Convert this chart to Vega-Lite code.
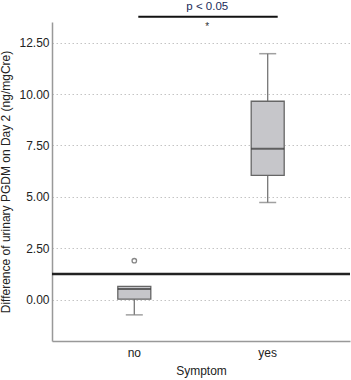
{
  "$schema": "https://vega.github.io/schema/vega-lite/v6.json",
  "autosize": {"type": "none"},
  "padding": {"left": 52, "top": 22, "right": 1, "bottom": 39},
  "width": 298,
  "height": 319,
  "background": "white",
  "config": {
    "view": {"stroke": null},
    "font": "Liberation Sans",
    "axis": {"labelFont": "Liberation Sans", "titleFont": "Liberation Sans", "labelColor": "#222", "titleColor": "#222", "titleFontWeight": "normal"}
  },
  "datasets": {
    "box": [
      {"Symptom": "no", "lower": -0.73, "q1": 0.03, "median": 0.53, "q3": 0.65, "upper": 0.65},
      {"Symptom": "yes", "lower": 4.73, "q1": 6.05, "median": 7.34, "q3": 9.65, "upper": 11.96}
    ],
    "outliers": [{"Symptom": "no", "value": 1.9}],
    "ref": [{"value": 1.26}],
    "sig": [{"from": "no", "to": "yes", "y": 13.76, "ytext": 14.06, "ystar": 13.42, "label": "p < 0.05", "star": "*"}]
  },
  "encoding": {
    "x": {
      "field": "Symptom", "type": "nominal", "sort": ["no", "yes"], "title": "Symptom",
      "scale": {"paddingInner": 0.5, "paddingOuter": 0.367},
      "axis": {"labelAngle": 0, "ticks": false, "domainColor": "#999", "domainWidth": 1.5, "labelFontSize": 12, "titleFontSize": 12, "labelPadding": 6, "titlePadding": 7, "grid": false}
    }
  },
  "layer": [
    {
      "data": {"name": "box"},
      "mark": {"type": "rule", "color": "#777", "strokeWidth": 1.3},
      "encoding": {
        "y": {
          "field": "lower", "type": "quantitative",
          "scale": {"domain": [-2, 13.5], "nice": false, "zero": false},
          "title": "Difference of urinary PGDM on Day 2 (ng/mgCre)",
          "axis": {"values": [0, 2.5, 5, 7.5, 10, 12.5], "format": ".2f", "ticks": false, "labelFontSize": 12, "titleFontSize": 12, "labelPadding": 3, "titlePadding": 6, "domainColor": "#999", "domainWidth": 1.5, "gridColor": "#c4c4c4", "gridDash": [1.5, 2.5], "gridWidth": 1}
        },
        "y2": {"field": "upper"}
      }
    },
    {
      "data": {"name": "box"},
      "mark": {"type": "tick", "color": "#777", "size": 17, "thickness": 1.5, "orient": "horizontal"},
      "encoding": {"y": {"field": "lower", "type": "quantitative"}}
    },
    {
      "data": {"name": "box"},
      "transform": [{"filter": "datum.upper > datum.q3"}],
      "mark": {"type": "tick", "color": "#777", "size": 17, "thickness": 1.5, "orient": "horizontal"},
      "encoding": {"y": {"field": "upper", "type": "quantitative"}}
    },
    {
      "data": {"name": "box"},
      "mark": {"type": "bar", "size": 33, "fill": "#c6c6ca", "stroke": "#666", "strokeWidth": 1.3},
      "encoding": {"y": {"field": "q1", "type": "quantitative"}, "y2": {"field": "q3"}}
    },
    {
      "data": {"name": "box"},
      "mark": {"type": "tick", "color": "#333", "size": 33, "thickness": 2, "orient": "horizontal"},
      "encoding": {"y": {"field": "median", "type": "quantitative"}}
    },
    {
      "data": {"name": "outliers"},
      "mark": {"type": "point", "shape": "circle", "filled": false, "stroke": "#555", "strokeWidth": 1.3, "size": 20},
      "encoding": {"y": {"field": "value", "type": "quantitative"}}
    },
    {
      "data": {"name": "ref"},
      "mark": {"type": "rule", "color": "#222", "strokeWidth": 2.5},
      "encoding": {"x": null, "y": {"field": "value", "type": "quantitative"}}
    },
    {
      "data": {"name": "sig"},
      "mark": {"type": "rule", "color": "#111", "strokeWidth": 2, "clip": false, "xOffset": 4, "x2Offset": 10},
      "encoding": {"x": {"field": "from", "type": "nominal", "title": "Symptom"}, "x2": {"field": "to"}, "y": {"field": "y", "type": "quantitative"}}
    },
    {
      "data": {"name": "sig"},
      "mark": {"type": "text", "fontSize": 11.5, "color": "#1a2a5a", "clip": false, "xOffset": 73, "baseline": "alphabetic"},
      "encoding": {"x": {"field": "from", "type": "nominal", "title": "Symptom"}, "y": {"field": "ytext", "type": "quantitative"}, "text": {"field": "label"}}
    },
    {
      "data": {"name": "sig"},
      "mark": {"type": "text", "fontSize": 10, "color": "#333", "clip": false, "xOffset": 73, "baseline": "middle", "dy": 3},
      "encoding": {"x": {"field": "from", "type": "nominal", "title": "Symptom"}, "y": {"field": "ystar", "type": "quantitative"}, "text": {"field": "star"}}
    }
  ]
}
